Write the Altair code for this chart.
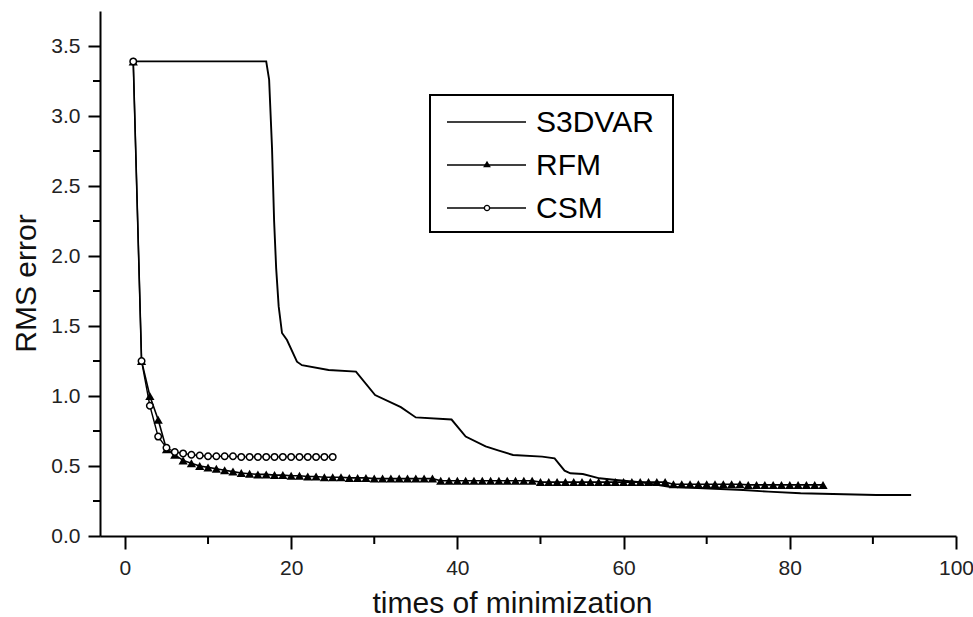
import altair as alt
import pandas as pd

# ---------------- data ----------------
series_names = ["S3DVAR", "RFM", "CSM"]

s3dvar_x = [1, 17.0, 17.35, 17.7, 17.95, 18.2, 18.5, 18.9, 19.5, 20.7, 21.3, 24.5, 27.8,
            30.1, 33.2, 35.0, 39.3, 41.0, 43.4, 44.9, 46.7, 50.2, 51.7, 52.9, 53.6, 55.1,
            57.1, 59.1, 62.0, 65.5, 74.4, 77.4, 81.3, 90.4, 94.6]
s3dvar_y = [3.39, 3.39, 3.26, 2.77, 2.25, 1.91, 1.64, 1.45, 1.40, 1.245, 1.22, 1.186, 1.174,
            1.007, 0.92, 0.847, 0.832, 0.71, 0.64, 0.612, 0.579, 0.567, 0.555, 0.467, 0.448, 0.443,
            0.412, 0.40, 0.385, 0.352, 0.329, 0.317, 0.305, 0.293, 0.293]

rfm_x = list(range(1, 85))
rfm_y = [3.39, 1.25, 1.00, 0.83, 0.62, 0.58, 0.54, 0.52, 0.50, 0.49,
         0.48, 0.47, 0.46, 0.45, 0.445, 0.44, 0.44, 0.435, 0.435, 0.43,
         0.43, 0.425, 0.425, 0.42, 0.42, 0.42, 0.415, 0.415, 0.415, 0.41,
         0.41, 0.41, 0.41, 0.41, 0.41, 0.41, 0.41, 0.395, 0.395, 0.395,
         0.395, 0.395, 0.395, 0.395, 0.395, 0.395, 0.395, 0.395, 0.395, 0.385,
         0.385, 0.385, 0.385, 0.385, 0.385, 0.385, 0.385, 0.385, 0.385, 0.385,
         0.385, 0.385, 0.385, 0.385, 0.385, 0.37, 0.37, 0.37, 0.37, 0.37,
         0.37, 0.37, 0.37, 0.37, 0.365, 0.365, 0.365, 0.365, 0.365, 0.365,
         0.365, 0.365, 0.365, 0.365]

csm_x = list(range(1, 26))
csm_y = [3.39, 1.25, 0.93, 0.71, 0.63, 0.60, 0.59, 0.58, 0.575, 0.57,
         0.57, 0.57, 0.57, 0.565, 0.565, 0.565, 0.565, 0.565, 0.565, 0.565,
         0.565, 0.565, 0.565, 0.565, 0.565]

x_major = [0, 20, 40, 60, 80, 100]
x_minor = [10, 30, 50, 70, 90]
y_major = [0.0, 0.5, 1.0, 1.5, 2.0, 2.5, 3.0, 3.5]
y_minor = [0.25, 0.75, 1.25, 1.75, 2.25, 2.75, 3.25]

x_title = "times of minimization"
y_title = "RMS error"

# ---------------- tables ----------------
df_s = pd.DataFrame({"x": s3dvar_x, "y": s3dvar_y})
df_r = pd.DataFrame({"x": rfm_x, "y": rfm_y})
df_c = pd.DataFrame({"x": csm_x, "y": csm_y})
df_xminor = pd.DataFrame({"x": x_minor})
df_yminor = pd.DataFrame({"y": y_minor})

W, H = 856, 525
FONT = "Liberation Sans"

xs = alt.Scale(domain=[-3, 100], nice=False, zero=False)
ys = alt.Scale(domain=[0, 3.75], nice=False, zero=False)

x_axis = alt.Axis(values=x_major, tickSize=13, tickWidth=2, tickColor="black",
                  domainColor="black", domainWidth=2, grid=False,
                  labelFont=FONT, labelFontSize=21, labelColor="#222", labelPadding=8,
                  title=x_title, titleFont=FONT, titleFontSize=30, titleFontWeight="normal",
                  titleColor="#111", titleX=412, titleY=76, titleAnchor="middle",
                  titleBaseline="alphabetic", labelFlush=False)
y_axis = alt.Axis(values=y_major, format=".1f", tickSize=12, tickWidth=2, tickColor="black",
                  domainColor="black", domainWidth=2, grid=False,
                  labelFont=FONT, labelFontSize=21, labelColor="#222", labelPadding=8,
                  title=y_title, titleFont=FONT, titleFontSize=30, titleFontWeight="normal",
                  titleColor="#111", titleX=-65, titleY=272, titleAngle=270,
                  titleAnchor="middle", titleBaseline="alphabetic")

X = alt.X("x:Q", scale=xs, axis=x_axis)
Y = alt.Y("y:Q", scale=ys, axis=y_axis)

s_line = alt.Chart(df_s).mark_line(color="black", strokeWidth=1.9).encode(x=X, y=Y)

rfm_line = alt.Chart(df_r).mark_line(color="black", strokeWidth=1.6).encode(x=X, y=Y)
rfm_pts = alt.Chart(df_r).mark_point(shape="triangle-up", filled=True, color="black",
                                     size=85, opacity=1).encode(x=X, y=Y)

csm_line = alt.Chart(df_c).mark_line(color="black", strokeWidth=1.4).encode(x=X, y=Y)
csm_pts = alt.Chart(df_c).mark_point(shape="circle", filled=False, color="black",
                                     fill="white", fillOpacity=1, size=42,
                                     strokeWidth=1.5, opacity=1).encode(x=X, y=Y)

xminor = alt.Chart(df_xminor).mark_rule(color="black", strokeWidth=2).encode(
    x=X, y=alt.value(H), y2=alt.value(H + 8))
yminor = alt.Chart(df_yminor).mark_rule(color="black", strokeWidth=2).encode(
    y=Y, x=alt.value(0), x2=alt.value(-7))

# ---------------- legend (drawn by hand) ----------------
one = pd.DataFrame({"k": [0]})
legend_layers = [
    alt.Chart(one).mark_rect(fill="white", stroke="black", strokeWidth=2).encode(
        x=alt.value(330), x2=alt.value(573), y=alt.value(84), y2=alt.value(221))
]
for i, name in enumerate(series_names):
    yy = 111 + 43 * i
    legend_layers.append(alt.Chart(one).mark_rule(color="black", strokeWidth=1.6).encode(
        x=alt.value(347), x2=alt.value(426), y=alt.value(yy)))
    legend_layers.append(alt.Chart(pd.DataFrame({"t": [name]})).mark_text(
        font=FONT, fontSize=30, align="left", baseline="middle", color="black").encode(
        x=alt.value(436), y=alt.value(yy + 1), text="t:N"))
    if name == "RFM":
        legend_layers.append(alt.Chart(one).mark_point(shape="triangle-up", filled=True,
                                                       color="black", size=60, opacity=1).encode(
            x=alt.value(387), y=alt.value(yy - 1)))
    if name == "CSM":
        legend_layers.append(alt.Chart(one).mark_point(shape="circle", filled=False,
                                                       color="black", fill="white", fillOpacity=1,
                                                       size=28, strokeWidth=1.3, opacity=1).encode(
            x=alt.value(387), y=alt.value(yy)))

chart = alt.layer(s_line, rfm_line, rfm_pts, csm_line, csm_pts, xminor, yminor,
                  *legend_layers).properties(
    width=W, height=H,
    padding={"left": 100, "top": 11, "right": 17, "bottom": 81},
    autosize=alt.AutoSizeParams(type="none"),
    background="white",
).configure_view(stroke=None)

chart.save("out.html", embed_options={"renderer": "svg", "actions": False})
